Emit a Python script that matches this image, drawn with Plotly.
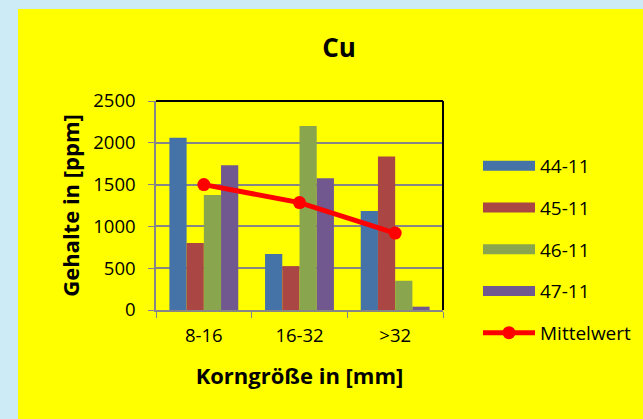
import plotly.graph_objects as go

categories = ["8-16", "16-32", ">32"]
series_names = ["44-11", "45-11", "46-11", "47-11"]
s44 = [2060, 670, 1185]
s45 = [800, 525, 1835]
s46 = [1375, 2200, 350]
s47 = [1730, 1575, 40]
mittelwert = [1500, 1285, 920]
colors = ["#4572A7", "#AA4643", "#89A54E", "#71588F"]

FONT = "Open Sans"
fig = go.Figure()
for name, vals, col in zip(series_names, [s44, s45, s46, s47], colors):
    fig.add_trace(go.Bar(x=categories, y=vals, name=name, marker_color=col,
                         marker_line_width=0, legendgroup=name, showlegend=False))
    # legend swatch (wide rectangle like the original)
    fig.add_trace(go.Scatter(x=[None], y=[None], mode="lines", name=name,
                             line=dict(color=col, width=12), legendgroup=name,
                             hoverinfo="skip"))
fig.add_trace(go.Scatter(x=categories, y=mittelwert, name="Mittelwert", mode="lines+markers",
                         line=dict(color="#FF0000", width=5),
                         marker=dict(color="#FF0000", size=13), legendgroup="mw"))

L, R, T, B = 156, 443, 101, 310
W, H = 643, 419
pw, ph = R - L, B - T
def px(x): return (x - L) / pw
def py(y): return (B - y) / ph

fig.update_layout(
    width=W, height=H,
    margin=dict(l=L, r=W - R, t=T, b=H - B, autoexpand=False),
    paper_bgcolor="#CDEAF7", plot_bgcolor="rgba(0,0,0,0)",
    barmode="group", bargap=0.28, bargroupgap=0,
    font=dict(family=FONT, color="#000000", size=18),
    title=dict(text="<b>Cu</b>", font=dict(size=26, family=FONT), xref="container", yref="container",
               x=339 / W, y=1 - 48 / H, xanchor="center", yanchor="middle"),
    shapes=[
        dict(type="rect", xref="paper", yref="paper", x0=px(18), x1=px(W + 5), y0=py(H + 5), y1=py(9),
             fillcolor="#FFFF00", line_width=0, layer="below"),
        dict(type="line", xref="paper", yref="paper", x0=0, x1=1, y0=1, y1=1,
             line=dict(color="#000000", width=2), layer="above"),
        dict(type="line", xref="paper", yref="paper", x0=1, x1=1, y0=0, y1=1,
             line=dict(color="#000000", width=2), layer="above"),
    ],
    legend=dict(xref="container", yref="container", x=478 / W, y=1 - 147 / H,
                xanchor="left", yanchor="top", bgcolor="rgba(0,0,0,0)",
                font=dict(size=19, family=FONT), itemwidth=52, traceorder="grouped",
                tracegroupgap=14, maxheight=400),
    xaxis=dict(title=dict(text="<b>Korngröße in [mm]</b>", font=dict(size=22, family=FONT), standoff=23),
               showline=True, linecolor="#868686", linewidth=1.5, ticks="outside",
               tickson="boundaries", ticklen=6, tickcolor="#868686", showgrid=False,
               tickfont=dict(size=18.5), ticklabelstandoff=8),
    yaxis=dict(title=dict(text="<b>Gehalte in [ppm]</b>", font=dict(size=22, family=FONT), standoff=8),
               range=[0, 2500], dtick=500, showline=True, linecolor="#868686", linewidth=1.5,
               ticks="outside", ticklen=6, tickcolor="#868686", gridcolor="#868686", gridwidth=1.5,
               zeroline=False, tickfont=dict(size=18.5), ticklabelstandoff=9),
)
fig.write_html("out.html", config={"displayModeBar": False},
               post_script=("document.body.style.margin='0';"
                            "document.body.style.background='#CDEAF7';"
                            "document.body.style.overflow='hidden';"
                            "document.documentElement.style.overflow='hidden';"))
